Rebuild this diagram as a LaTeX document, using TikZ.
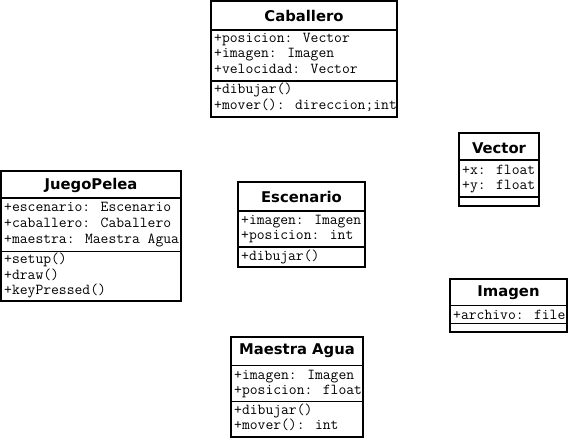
\documentclass[tikz,border=0pt]{standalone}
\usepackage{fontspec}
\newfontfamily\titlefont{DejaVu Sans}[BoldFont={DejaVu Sans Bold}]
\tikzset{
  classbox/.style={draw=black, line width=1.5pt, fill=white},
  sepline/.style={draw=black, line width=1.3pt},
  ctitle/.style={font=\titlefont\bfseries\fontsize{14.8}{16}\selectfont, anchor=center, inner sep=0pt},
  cattr/.style={font=\ttfamily\fontsize{15.2}{16}\selectfont, anchor=base west, inner sep=0pt}
}
\begin{document}
\begin{tikzpicture}[x=1pt,y=-1pt]
\useasboundingbox (0,0) rectangle (568,438);
% Caballero
\draw[classbox] (211,1) rectangle (397,117);
\draw[sepline] (211,30) -- (397,30);
\draw[sepline] (211,81) -- (397,81);
\node[ctitle] (cabT) at (304,16) {Caballero};
\node[cattr] (cab1) at (214,42.5) {+posicion: Vector};
\node[cattr] (cab2) at (214,58) {+imagen: Imagen};
\node[cattr] (cab3) at (214,73.5) {+velocidad: Vector};
\node[cattr] (cab4) at (214,94) {+dibujar()};
\node[cattr] (cab5) at (214,110) {+mover(): direccion;int};
% JuegoPelea
\draw[classbox] (1,171) rectangle (181,301);
\draw[sepline] (1,198) -- (181,198);
\draw[sepline] (1,251.5) -- (181,251.5);
\node[ctitle] (jpT) at (91,185.5) {JuegoPelea};
\node[cattr] (jp1) at (4,212) {+escenario: Escenario};
\node[cattr] (jp2) at (4,228) {+caballero: Caballero};
\node[cattr] (jp3) at (4,244) {+maestra: Maestra Agua};
\node[cattr] (jp4) at (4,264) {+setup()};
\node[cattr] (jp5) at (4,279.5) {+draw()};
\node[cattr] (jp6) at (4,295) {+keyPressed()};
% Escenario
\draw[classbox] (238,182) rectangle (365,267);
\draw[sepline] (238,211) -- (365,211);
\draw[sepline] (238,247) -- (365,247);
\node[ctitle] (escT) at (301.5,197) {Escenario};
\node[cattr] (esc1) at (241,224.5) {+imagen: Imagen};
\node[cattr] (esc2) at (241,240) {+posicion: int};
\node[cattr] (esc3) at (241,260.5) {+dibujar()};
% Vector
\draw[classbox] (459,133) rectangle (539,206);
\draw[sepline] (459,160) -- (539,160);
\draw[sepline] (459,197) -- (539,197);
\node[ctitle] (vecT) at (499,148) {Vector};
\node[cattr] (vec1) at (462,175) {+x: float};
\node[cattr] (vec2) at (462,190) {+y: float};
% Imagen
\draw[classbox] (450,279) rectangle (567,332);
\draw[sepline] (450,305.5) -- (567,305.5);
\draw[sepline] (450,323.5) -- (567,323.5);
\node[ctitle] (imgT) at (508.5,293) {Imagen};
\node[cattr] (img1) at (453,319.5) {+archivo: file};
% Maestra Agua
\draw[classbox] (231,337) rectangle (363,437);
\draw[sepline] (231,365.5) -- (363,365.5);
\draw[sepline] (231,401.5) -- (363,401.5);
\node[ctitle] (maT) at (297,351) {Maestra Agua};
\node[cattr] (ma1) at (234,379.5) {+imagen: Imagen};
\node[cattr] (ma2) at (234,394.5) {+posicion: float};
\node[cattr] (ma3) at (234,415) {+dibujar()};
\node[cattr] (ma4) at (234,430) {+mover(): int};
\end{tikzpicture}
\end{document}
